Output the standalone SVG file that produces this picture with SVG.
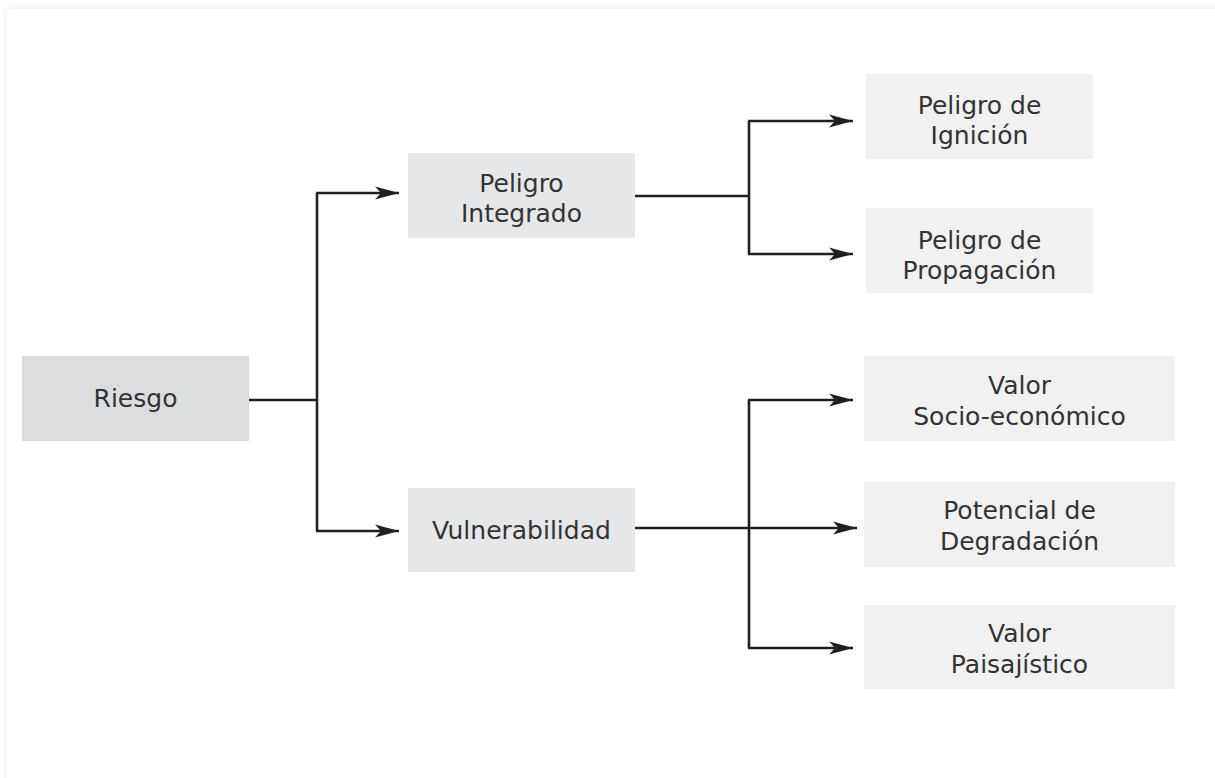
<svg xmlns="http://www.w3.org/2000/svg" width="1215" height="778" viewBox="0 0 1215 778">
<defs>
<filter id="sh" x="-5%" y="-5%" width="110%" height="110%">
<feDropShadow dx="0" dy="0" stdDeviation="3.5" flood-color="#000" flood-opacity="0.10"/>
</filter>
<marker id="ah" viewBox="0 0 24 14" refX="24" refY="7" markerWidth="24" markerHeight="14" markerUnits="userSpaceOnUse" orient="auto">
<path d="M24 7 L0 0.5 L6 7 L0 13.5 Z" fill="#231f20"/>
</marker>
</defs>
<style>
.t{font-family:"DejaVu Sans","Liberation Sans",sans-serif;font-size:25px;fill:#333333;text-anchor:middle}
.c{fill:none;stroke:#231f20;stroke-width:2.6}
</style>
<rect x="0" y="0" width="1215" height="778" fill="#fff"/>
<rect x="7" y="9" width="1260" height="820" fill="#fff" filter="url(#sh)"/>
<g id="connectors">
<path class="c" d="M249 400 H317"/>
<path class="c" d="M317 193 V531"/>
<path class="c" d="M316 193 H399" marker-end="url(#ah)"/>
<path class="c" d="M316 531 H399" marker-end="url(#ah)"/>
<path class="c" d="M635 196 H749"/>
<path class="c" d="M749 121 V254"/>
<path class="c" d="M748 121 H853" marker-end="url(#ah)"/>
<path class="c" d="M748 254 H853" marker-end="url(#ah)"/>
<path class="c" d="M635 528 H857" marker-end="url(#ah)"/>
<path class="c" d="M749 400 V648"/>
<path class="c" d="M748 400 H853" marker-end="url(#ah)"/>
<path class="c" d="M748 648 H853" marker-end="url(#ah)"/>
</g>
<g id="riesgo">
<rect x="22" y="356" width="227" height="85" fill="#dcdddf"/>
<text class="t" x="135.5" y="407">Riesgo</text>
</g>
<g id="peligro-integrado">
<rect x="408" y="153" width="227" height="85" fill="#e6e7e8"/>
<text class="t" x="521.5" y="192">Peligro</text>
<text class="t" x="521.5" y="222">Integrado</text>
</g>
<g id="vulnerabilidad">
<rect x="408" y="488" width="227" height="84" fill="#e6e7e8"/>
<text class="t" x="521.5" y="539">Vulnerabilidad</text>
</g>
<g id="peligro-ignicion">
<rect x="866" y="74" width="227" height="85" fill="#f1f1f1"/>
<text class="t" x="979.5" y="114">Peligro de</text>
<text class="t" x="979.5" y="144">Ignición</text>
</g>
<g id="peligro-propagacion">
<rect x="866" y="208" width="227" height="85" fill="#f1f1f1"/>
<text class="t" x="979.5" y="249">Peligro de</text>
<text class="t" x="979.5" y="279">Propagación</text>
</g>
<g id="valor-socio">
<rect x="864" y="356" width="311" height="85" fill="#f1f1f1"/>
<text class="t" x="1019.5" y="394">Valor</text>
<text class="t" x="1019.5" y="425">Socio-económico</text>
</g>
<g id="potencial-degradacion">
<rect x="864" y="482" width="311" height="85" fill="#f1f1f1"/>
<text class="t" x="1019.5" y="519">Potencial de</text>
<text class="t" x="1019.5" y="550">Degradación</text>
</g>
<g id="valor-paisajistico">
<rect x="864" y="605" width="311" height="84" fill="#f1f1f1"/>
<text class="t" x="1019.5" y="642">Valor</text>
<text class="t" x="1019.5" y="673">Paisajístico</text>
</g>
</svg>
